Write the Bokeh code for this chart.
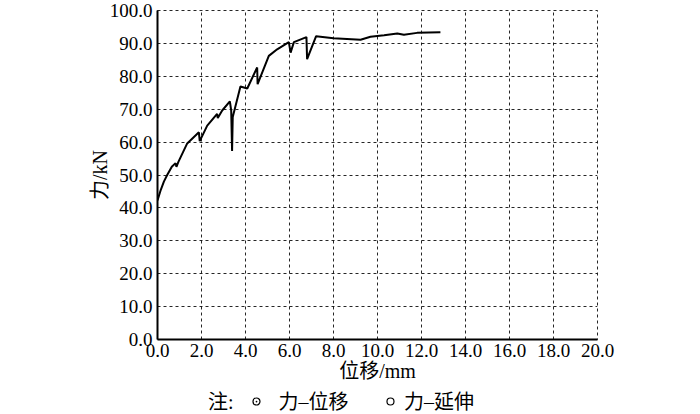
from bokeh.plotting import figure
from bokeh.layouts import column
from bokeh.models import Range1d, FixedTicker, NumeralTickFormatter
from bokeh.core.properties import value
from bokeh.embed import file_html
from bokeh.resources import INLINE

# data: force (kN) vs displacement (mm)
disp = [0.0, 0.15, 0.29, 0.44, 0.65, 0.82, 0.86, 0.95, 1.35, 1.88, 1.92, 2.26, 2.71, 2.74,
        2.94, 3.29, 3.35, 3.39, 3.42, 3.77, 4.08, 4.53, 4.55, 5.06, 5.44, 5.97, 6.05, 6.2,
        6.77, 6.8, 7.21, 8.0, 9.23, 9.68, 10.3, 10.9, 11.2, 11.8, 12.86]
force = [42.3, 45.5, 48.0, 50.0, 52.5, 53.6, 52.5, 54.0, 59.6, 63.0, 60.3, 65.0, 68.6, 67.3,
         69.6, 72.4, 69.6, 57.3, 67.6, 76.9, 76.3, 82.7, 77.6, 86.2, 88.2, 90.4, 87.2, 90.4,
         91.9, 85.2, 92.2, 91.6, 91.1, 92.0, 92.5, 93.0, 92.6, 93.2, 93.4]

x_ticks = [0, 2, 4, 6, 8, 10, 12, 14, 16, 18, 20]
y_ticks = [0, 10, 20, 30, 40, 50, 60, 70, 80, 90, 100]

x_title = "位移/mm"
y_title = "力/kN"
note_text = "注:"
legend_names = ["力–位移", "力–延伸"]
legend_markers = ["circle_dot", "circle"]

SERIF = "Liberation Serif, Noto Sans CJK SC"

p = figure(width=684, height=390, output_backend="svg", toolbar_location=None,
           x_range=Range1d(0, 20), y_range=Range1d(0, 100),
           min_border_left=157, min_border_right=87, min_border_top=10, min_border_bottom=51)

p.line(disp, force, line_color="black", line_width=2)

for ax in (p.xaxis, p.yaxis):
    ax.major_tick_in = 0
    ax.major_tick_out = 0
    ax.minor_tick_in = 0
    ax.minor_tick_out = 0
    ax.axis_line_color = "black"
    ax.axis_line_width = 2
    ax.formatter = NumeralTickFormatter(format="0.0")
    ax.major_label_text_font = "Liberation Serif"
    ax.major_label_text_font_size = "19px"
    ax.major_label_text_color = "black"
    ax.axis_label_text_font = SERIF
    ax.axis_label_text_font_size = "20px"
    ax.axis_label_text_font_style = "normal"
    ax.axis_label_text_color = "black"

p.xaxis.ticker = FixedTicker(ticks=x_ticks)
p.yaxis.ticker = FixedTicker(ticks=y_ticks)
p.xaxis.axis_label = x_title
p.yaxis.axis_label = y_title
p.xaxis.major_label_standoff = 4
p.yaxis.major_label_standoff = 5
p.xaxis.axis_label_standoff = 0
p.yaxis.axis_label_standoff = -4

for g in (p.xgrid, p.ygrid):
    g.grid_line_color = "black"
    g.grid_line_dash = "3 3"
    g.grid_line_width = 1
    g.grid_line_alpha = 0.85
p.xgrid.ticker = FixedTicker(ticks=x_ticks)
p.ygrid.ticker = FixedTicker(ticks=y_ticks)

p.outline_line_color = "black"
p.outline_line_dash = "3 3"
p.outline_line_width = 1
p.outline_line_alpha = 0.85
p.background_fill_color = "white"
p.border_fill_color = "white"

# note / legend row below the chart
q = figure(width=684, height=22, output_backend="svg", toolbar_location=None,
           x_range=Range1d(0, 20), y_range=Range1d(0, 1),
           x_axis_type=None, y_axis_type=None,
           min_border_left=157, min_border_right=87, min_border_top=0, min_border_bottom=0)
q.outline_line_color = None
q.xgrid.visible = False
q.ygrid.visible = False
q.background_fill_color = "white"
q.border_fill_color = "white"

q.text(x=[2.3], y=[0.5], text=[note_text], text_font=value(SERIF), text_font_size="20px",
       text_baseline="middle", text_align="left", text_color="black")
q.scatter(x=[4.5, 10.59], y=[0.5, 0.5], marker=legend_markers, size=7,
          fill_color=None, line_color="black", line_width=1.2)
q.text(x=[5.5, 11.2], y=[0.5, 0.5], text=legend_names, text_font=value(SERIF), text_font_size="20px",
       text_baseline="middle", text_align="left", text_color="black")

layout = column(p, q, spacing=0)
open("out.html", "w").write(file_html(layout, INLINE))
